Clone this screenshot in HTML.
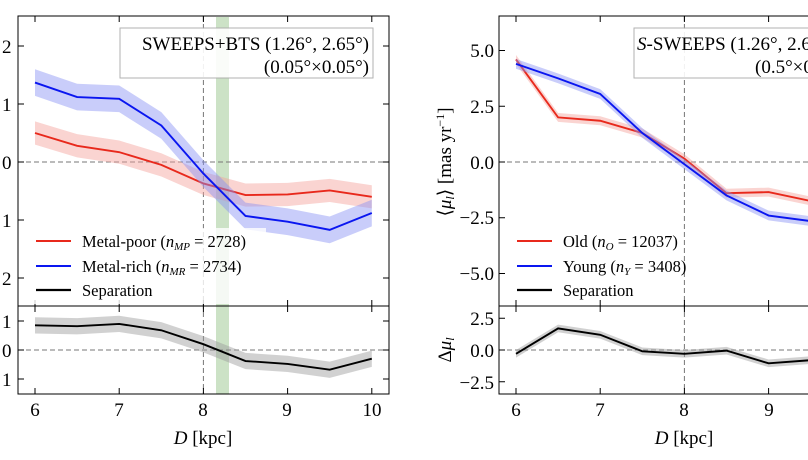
<!DOCTYPE html>
<html><head><meta charset="utf-8"><style>
body{margin:0;background:#fff;width:808px;height:455px;overflow:hidden}
svg{font-family:"Liberation Serif",serif}
</style></head><body>
<svg id="s" width="808" height="455" xmlns="http://www.w3.org/2000/svg">
<!-- left panel -->
<rect x="216" y="17" width="13" height="377" fill="#8fbf80" opacity="0.45"/>
<g id="L"></g>
<rect x="26" y="228" width="240" height="76" fill="#fff" opacity="0.8"/>
<rect x="18" y="16" width="371" height="378" fill="none" stroke="#000" stroke-width="1"/>
<line x1="18" y1="306" x2="389" y2="306" stroke="#000"/>
<rect x="120" y="28" width="253" height="50" fill="#fff" stroke="#aaa" opacity="0.9"/>
<text x="369" y="50" font-size="19" text-anchor="end">SWEEPS+BTS (1.26°, 2.65°)</text>
<text x="369" y="73" font-size="19" text-anchor="end">(0.05°×0.05°)</text>
<g font-size="19">
<text x="2" y="53">2</text><text x="2" y="111">1</text><text x="2" y="169">0</text><text x="2" y="227">1</text><text x="2" y="285">2</text>
<text x="2" y="328">1</text><text x="2" y="357">0</text><text x="2" y="386">1</text>
</g>
<g font-size="19" text-anchor="middle">
<text x="35" y="416">6</text><text x="119" y="416">7</text><text x="203" y="416">8</text><text x="287" y="416">9</text><text x="372" y="416">10</text>
<text x="203" y="444"><tspan font-style="italic">D</tspan> [kpc]</text>
</g>
<g font-size="16.5">
<line x1="36" y1="241" x2="71" y2="241" stroke="#e8291c" stroke-width="2"/><text x="82" y="247">Metal-poor (<tspan font-style="italic">n</tspan><tspan font-style="italic" font-size="11" dy="3">MP</tspan><tspan dy="-3"> = 2728)</tspan></text>
<line x1="36" y1="266" x2="71" y2="266" stroke="#0a16f0" stroke-width="2"/><text x="82" y="272">Metal-rich (<tspan font-style="italic">n</tspan><tspan font-style="italic" font-size="11" dy="3">MR</tspan><tspan dy="-3"> = 2734)</tspan></text>
<line x1="36" y1="290" x2="71" y2="290" stroke="#000" stroke-width="2.2"/><text x="82" y="296">Separation</text>
</g>
<!-- right panel -->
<g id="R"></g>
<rect x="499" y="16" width="340" height="378" fill="none" stroke="#000"/>
<line x1="499" y1="306" x2="808" y2="306" stroke="#000"/>
<rect x="634" y="28" width="220" height="50" fill="#fff" stroke="#aaa" opacity="0.9"/>
<text x="637" y="50" font-size="19"><tspan font-style="italic">S</tspan>-SWEEPS (1.26°, 2.65°)</text>
<text x="755" y="73" font-size="19">(0.5°×0.5°)</text>
<g font-size="19" text-anchor="end">
<text x="494" y="57">5.0</text><text x="494" y="113">2.5</text><text x="494" y="169">0.0</text><text x="494" y="224">−2.5</text><text x="494" y="280">−5.0</text>
<text x="494" y="325">2.5</text><text x="494" y="357">0.0</text><text x="494" y="389">−2.5</text>
</g>
<text transform="translate(451,162) rotate(-90)" font-size="19" text-anchor="middle">⟨<tspan font-style="italic">μ</tspan><tspan font-style="italic" font-size="12" dy="3">l</tspan><tspan dy="-3">⟩ [mas yr</tspan><tspan font-size="12" dy="-7">−1</tspan><tspan dy="7">]</tspan></text>
<text transform="translate(451,350) rotate(-90)" font-size="19" text-anchor="middle">Δ<tspan font-style="italic">μ</tspan><tspan font-style="italic" font-size="12" dy="3">l</tspan></text>
<g font-size="19" text-anchor="middle">
<text x="516" y="416">6</text><text x="600" y="416">7</text><text x="684" y="416">8</text><text x="769" y="416">9</text>
<text x="684" y="444"><tspan font-style="italic">D</tspan> [kpc]</text>
</g>
<g font-size="16.5">
<line x1="517" y1="241" x2="552" y2="241" stroke="#e8291c" stroke-width="2"/><text x="563" y="247">Old (<tspan font-style="italic">n</tspan><tspan font-style="italic" font-size="11" dy="3">O</tspan><tspan dy="-3"> = 12037)</tspan></text>
<line x1="517" y1="266" x2="552" y2="266" stroke="#0a16f0" stroke-width="2"/><text x="563" y="272">Young (<tspan font-style="italic">n</tspan><tspan font-style="italic" font-size="11" dy="3">Y</tspan><tspan dy="-3"> = 3408)</tspan></text>
<line x1="517" y1="290" x2="552" y2="290" stroke="#000" stroke-width="2.2"/><text x="563" y="296">Separation</text>
</g>
</svg>
<script>
var NS="http://www.w3.org/2000/svg";
function el(g,t,a){var e=document.createElementNS(NS,t);for(var k in a)e.setAttribute(k,a[k]);g.appendChild(e);return e;}
function panel(gid,x0,xs,top,bot,ticksX,xl,xr,up,lo,series,sep){
 var g=document.getElementById(gid);
 var X=function(d){return x0+(d-6)*xs;};
 el(g,"line",{x1:X(8),y1:top,x2:X(8),y2:bot,stroke:"#777","stroke-dasharray":"5,3","stroke-width":1});
 el(g,"line",{x1:xl,y1:up.y0,x2:xr,y2:up.y0,stroke:"#777","stroke-dasharray":"5,3"});
 el(g,"line",{x1:xl,y1:lo.y0,x2:xr,y2:lo.y0,stroke:"#777","stroke-dasharray":"5,3"});
 function draw(d,e,col,fill,ax){
  var top_="",bo="",ln="";
  for(var i=0;i<d.length;i++){var x=X(6+0.5*i);top_+=(i?"L":"M")+x+","+(ax.y0-(d[i]+e)*ax.s);ln+=(i?"L":"M")+x+","+(ax.y0-d[i]*ax.s);}
  for(var i=d.length-1;i>=0;i--){var x=X(6+0.5*i);bo+="L"+x+","+(ax.y0-(d[i]-e)*ax.s);}
  el(g,"path",{d:top_+bo+"Z",fill:fill,opacity:0.45});
  el(g,"path",{d:ln,fill:"none",stroke:col,"stroke-width":1.9});
 }
 series.forEach(function(s){draw(s[0],s[1],s[2],s[3],up);});
 draw(sep[0],sep[1],"#000","#999",lo);
 ticksX.forEach(function(t){var x=X(t);
  el(g,"line",{x1:x,y1:top,x2:x,y2:top+6,stroke:"#000"});
  el(g,"line",{x1:x,y1:306,x2:x,y2:300,stroke:"#000"});
  el(g,"line",{x1:x,y1:306,x2:x,y2:312,stroke:"#000"});
  el(g,"line",{x1:x,y1:bot,x2:x,y2:bot-6,stroke:"#000"});});
 up.t.forEach(function(v){var y=up.y0-v*up.s;el(g,"line",{x1:xl,y1:y,x2:xl+6,y2:y,stroke:"#000"});el(g,"line",{x1:xr,y1:y,x2:xr-6,y2:y,stroke:"#000"});});
 lo.t.forEach(function(v){var y=lo.y0-v*lo.s;el(g,"line",{x1:xl,y1:y,x2:xl+6,y2:y,stroke:"#000"});el(g,"line",{x1:xr,y1:y,x2:xr-6,y2:y,stroke:"#000"});});
}
panel("L",35,84.2,16,394,[6,7,8,9,10],18,389,{y0:162,s:58,t:[-2,-1,0,1,2]},{y0:350,s:29,t:[-1,0,1]},
 [[[0.5,0.28,0.17,-0.05,-0.37,-0.57,-0.56,-0.49,-0.6],0.2,"#e8291c","#f4a09a"],
  [[1.37,1.12,1.09,0.63,-0.2,-0.93,-1.03,-1.17,-0.88],0.23,"#0a16f0","#8890f5"]],
 [[0.85,0.82,0.9,0.68,0.2,-0.38,-0.48,-0.68,-0.3],0.28]);
panel("R",516,84.2,16,394,[6,7,8,9,10],499,839,{y0:162,s:22.3,t:[-5,-2.5,0,2.5,5]},{y0:350,s:12.7,t:[-2.5,0,2.5]},
 [[[4.6,2.0,1.85,1.3,0.15,-1.4,-1.35,-1.75,-1.9],0.2,"#e8291c","#f4a09a"],
  [[4.4,3.75,3.05,1.3,-0.1,-1.5,-2.4,-2.65,-2.8],0.22,"#0a16f0","#8890f5"]],
 [[-0.3,1.7,1.2,-0.1,-0.3,-0.05,-1.05,-0.8,-0.8],0.3]);
</script>
</body></html>
